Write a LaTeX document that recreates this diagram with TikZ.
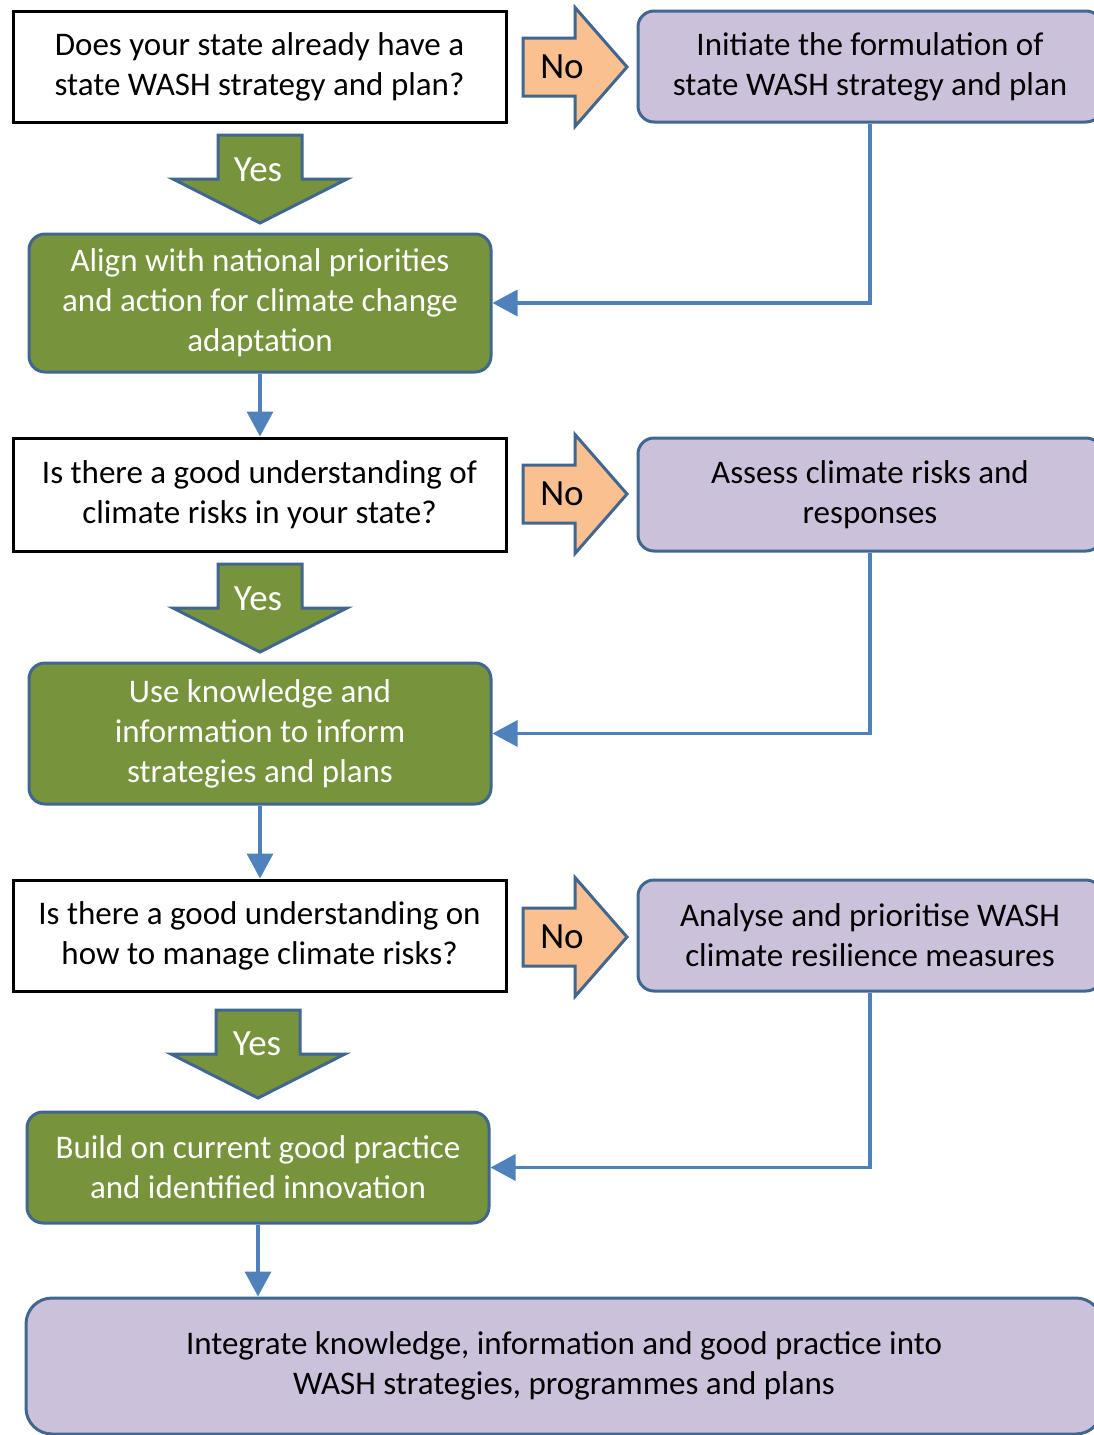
\documentclass[tikz,border=0pt]{standalone}
\usepackage{fontspec}
\setmainfont{Carlito}
\usetikzlibrary{arrows.meta}
\definecolor{edgeblue}{HTML}{41668F}
\definecolor{lineblue}{HTML}{4F81BD}
\definecolor{actgreen}{HTML}{77933C}
\definecolor{todopurple}{HTML}{CCC1DA}
\definecolor{noorange}{HTML}{FAC090}
\begin{document}
\begin{tikzpicture}
  [x=1pt,y=-1pt,
   every node/.style={font=\fontsize{33}{40}\selectfont,align=center,inner sep=0pt},
   ask/.style={draw=black,line width=3pt,fill=white,minimum width=493pt,minimum height=111pt},
   act/.style={draw=edgeblue,line width=3pt,fill=actgreen,text=white,rounded corners=16pt,minimum width=462pt},
   todo/.style={draw=edgeblue,line width=3pt,fill=todopurple,rounded corners=16pt,minimum width=464pt,minimum height=111pt},
   yes/.style={draw=edgeblue,line width=3pt,fill=actgreen,line join=miter},
   no/.style={draw=edgeblue,line width=3pt,fill=noorange,line join=miter},
   tag/.style={font=\fontsize{37}{40}\selectfont},
   flow/.style={-{Triangle[length=25pt,width=26pt]},draw=lineblue,line width=3.5pt}]
  \useasboundingbox (0,0) rectangle (1093,1435);

  % questions
  \node[ask] (q1) at (259.5,66.5) {Does your state already have a\\state WASH strategy and plan?};
  \node[ask,minimum height=113pt] (q2) at (259.5,494.5) {Is there a good understanding of\\climate risks in your state?};
  \node[ask] (q3) at (259.5,935.5) {Is there a good understanding on\\how to manage climate risks?};

  % what to do if no
  \node[todo] (init) at (870,66.5) {Initiate the formulation of\\state WASH strategy and plan};
  \node[todo,minimum height=113pt] (assess) at (870,494.5) {Assess climate risks and\\responses};
  \node[todo] (analyse) at (870,935.5) {Analyse and prioritise WASH\\climate resilience measures};

  % what to do if yes
  \node[act,minimum height=138pt] (align) at (260,303) {Align with national priorities\\and action for climate change\\adaptation};
  \node[act,minimum height=141pt] (use) at (260,733.5) {Use knowledge and\\information to inform\\strategies and plans};
  \node[act,minimum height=111pt] (build) at (258,1167.5) {Build on current good practice\\and identified innovation};

  \node[todo,minimum width=1076pt,minimum height=136pt,rounded corners=26pt] (integrate) at (564,1366)
    {Integrate knowledge, information and good practice into\\WASH strategies, programmes and plans};

  % yes arrows
  \draw[yes,shift={(260,135)}] (-42,0) -- (42,0) -- (42,44) -- (87,44) -- (0,88) -- (-87,44) -- (-42,44) -- cycle;
  \node[tag,text=white] (yes1) at (258,170) {Yes};
  \draw[yes,shift={(260,564)}] (-42,0) -- (42,0) -- (42,44) -- (87,44) -- (0,88) -- (-87,44) -- (-42,44) -- cycle;
  \node[tag,text=white] (yes2) at (258,599) {Yes};
  \draw[yes,shift={(258,1010)}] (-42,0) -- (42,0) -- (42,44) -- (87,44) -- (0,88) -- (-87,44) -- (-42,44) -- cycle;
  \node[tag,text=white] (yes3) at (257,1044) {Yes};

  % no arrows
  \draw[no,shift={(523,67)}] (0,-29) -- (52,-29) -- (52,-59.5) -- (104,0) -- (52,59.5) -- (52,29) -- (0,29) -- cycle;
  \node[tag] (no1) at (562,67) {No};
  \draw[no,shift={(523,494)}] (0,-29) -- (52,-29) -- (52,-59.5) -- (104,0) -- (52,59.5) -- (52,29) -- (0,29) -- cycle;
  \node[tag] (no2) at (562,494) {No};
  \draw[no,shift={(523,937)}] (0,-29) -- (52,-29) -- (52,-59.5) -- (104,0) -- (52,59.5) -- (52,29) -- (0,29) -- cycle;
  \node[tag] (no3) at (562,937) {No};

  \draw[flow] (init.south) |- (align.east);
  \draw[flow] (assess.south) |- (use.east);
  \draw[flow] (analyse.south) |- (build.east);
  \draw[flow] (align.south) -- (align.south |- q2.north);
  \draw[flow] (use.south) -- (use.south |- q3.north);
  \draw[flow] (build.south) -- (build.south |- integrate.north);

\end{tikzpicture}
\end{document}
